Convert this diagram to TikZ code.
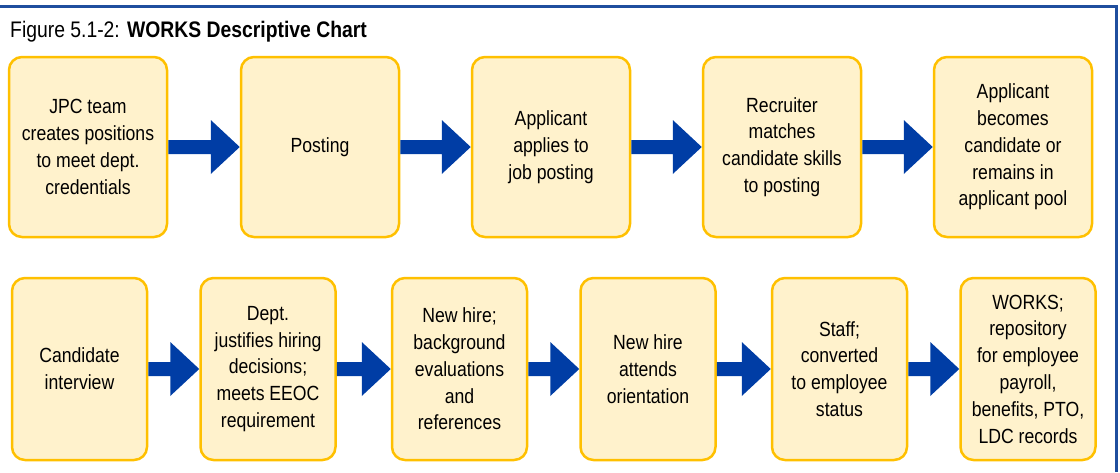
\documentclass[tikz,border=0pt]{standalone}
\usepackage{fontspec}
\setmainfont{Liberation Sans}[FakeStretch=0.86]
\usetikzlibrary{calc}
\definecolor{boxfill}{HTML}{FFF2CC}
\definecolor{boxline}{HTML}{FFC000}
\definecolor{arrowblue}{HTML}{003DA5}
\definecolor{frameblue}{HTML}{1F4E9E}
\newcommand\fatarrow[2]{%
  \fill[arrowblue] ($(#1.east)+(0,-7)$) -- ($(#2.west)+(-29,-7)$) -- ($(#2.west)+(-29,-27)$)
    -- (#2.west) -- ($(#2.west)+(-29,27)$) -- ($(#2.west)+(-29,7)$) -- ($(#1.east)+(0,7)$) -- cycle;}
\begin{document}
\begin{tikzpicture}[x=1pt,y=-1pt,
  box/.style={draw=boxline, fill=boxfill, line width=2.5pt, rounded corners=13pt,
    align=center, inner sep=0pt, font=\fontsize{20.5}{26.8}\selectfont},
  topbox/.style={box, minimum width=158pt, minimum height=180pt},
  botbox/.style={box, minimum width=135pt, minimum height=182pt},
  titlefont/.style={font=\fontsize{22.5}{27}\selectfont}
]
\useasboundingbox (0,0) rectangle (1120,472);
\draw[frameblue, line width=3pt] (0,6) -- (1116,6) -- (1116,472);
\node[anchor=base west, titlefont, inner sep=0pt] (title) at (10,37)
  {Figure 5.1-2: \textbf{WORKS Descriptive Chart}};

% top row
\node[topbox] (t1) at (88,147) {JPC team\\creates positions\\to meet dept.\\credentials};
\node[topbox] (t2) at (320,147) {Posting};
\node[topbox] (t3) at (551,147) {Applicant\\applies to\\job posting};
\node[topbox] (t4) at (782,147) {Recruiter\\matches\\candidate skills\\to posting};
\node[topbox] (t5) at (1013,147) {Applicant\\becomes\\candidate or\\remains in\\applicant pool};

% bottom row
\node[botbox] (b1) at (79.5,369) {Candidate\\interview};
\node[botbox] (b2) at (268,369) {Dept.\\justifies hiring\\decisions;\\meets EEOC\\requirement};
\node[botbox] (b3) at (459.5,369) {New hire;\\background\\evaluations\\and\\references};
\node[botbox] (b4) at (648,369) {New hire\\attends\\orientation};
\node[botbox] (b5) at (839.5,369) {Staff;\\converted\\to employee\\status};
\node[botbox] (b6) at (1028,369) {WORKS;\\repository\\for employee\\payroll,\\benefits, PTO,\\LDC records};

\fatarrow{t1}{t2}
\fatarrow{t2}{t3}
\fatarrow{t3}{t4}
\fatarrow{t4}{t5}
\fatarrow{b1}{b2}
\fatarrow{b2}{b3}
\fatarrow{b3}{b4}
\fatarrow{b4}{b5}
\fatarrow{b5}{b6}
\end{tikzpicture}
\end{document}
